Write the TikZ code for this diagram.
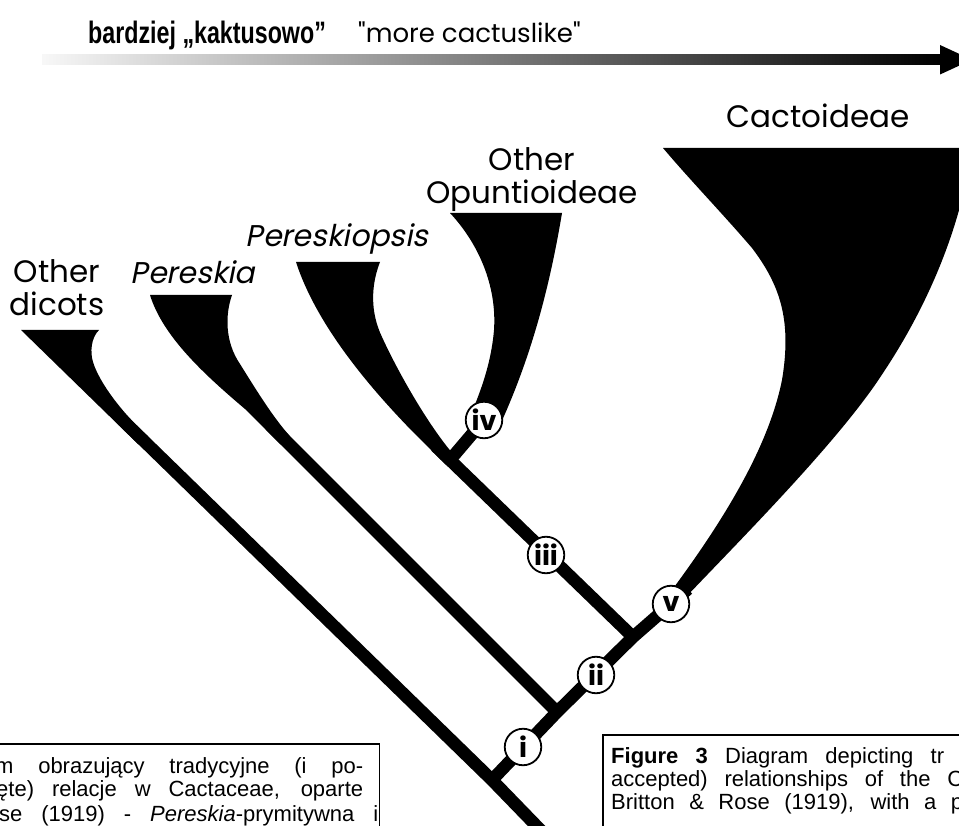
\documentclass[tikz,border=0pt]{standalone}
\usepackage{fontspec}
\setmainfont{Liberation Sans}
\newfontfamily\geo{Poppins}
\newfontfamily\geoit[FakeSlant=0.2]{Poppins}
\newfontfamily\narrowb[FakeStretch=0.75]{Liberation Sans Bold}
\begin{document}
\begin{tikzpicture}[x=1pt,y=-1pt,
  branch/.style={line width=12.5pt, line join=round},
  clade/.style={fill=black},
  num/.style={circle, draw=black, fill=white, line width=1.8pt, minimum size=36.5pt, inner sep=0pt,
    font=\geo\bfseries\fontsize{27}{27}\selectfont},
  taxon/.style={font=\geo\fontsize{31}{33}\selectfont, align=center, inner sep=0pt},
  taxonit/.style={font=\geoit\fontsize{30}{33}\selectfont, inner sep=0pt},
  captxt/.style={font=\fontsize{22}{23}\selectfont, inner sep=0pt, anchor=base west},
  capbox/.style={draw=black, line width=1.3pt}]
\useasboundingbox (0,0) rectangle (959,826);
\fill[white] (0,0) rectangle (959,826);
\begin{scope}
\clip (0,0) rectangle (959,826);

% header
\node[anchor=base west, inner sep=0pt, font=\narrowb\fontsize{31}{32}\selectfont] (hdrpl) at (88,44) {bardziej „kaktusowo”};
\node[anchor=base west, inner sep=0pt, font=\geo\fontsize{26}{28}\selectfont] (hdren) at (358,43) {"more cactuslike"};
\shade[left color=black!3, right color=black] (42,55) rectangle (942,64.5);
\fill (940,45) -- (972,59.75) -- (940,74.5) -- cycle;

% clade shapes
\fill[clade] (21,330) -- (99,330) .. controls (91,338) and (90,352) .. (93,362)
  .. controls (99,382) and (122,413) .. (147.3,435.5) -- (138.5,444.5) -- cycle;
\fill[clade] (150,295) -- (232,295) .. controls (225,315) and (225,342) .. (240,364)
  .. controls (255,388) and (272,416) .. (289.4,435.6) -- (280.6,444.4) -- (245,409)
  .. controls (205,375) and (163,337) .. (150,295) -- cycle;
\fill[clade] (296,262) -- (380,262) .. controls (371,285) and (370,312) .. (382,337)
  .. controls (398,372) and (428,425) .. (454.3,455.5) -- (445.7,464.5) -- (413,432)
  .. controls (378,396) and (318,330) .. (296,262) -- cycle;
\fill[clade] (450,213) -- (562,213) .. controls (550,285) and (532,355) .. (500,425)
  -- (472,412) .. controls (480,392) and (491,365) .. (494,330)
  .. controls (497,285) and (478,243) .. (450,213) -- cycle;
\fill[clade] (663,148) -- (975,148) -- (968,172) .. controls (955,240) and (925,310) .. (883,373)
  .. controls (840,440) and (740,540) .. (686,597) -- (672,590)
  .. controls (720,525) and (768,450) .. (782,380)
  .. controls (792,320) and (780,285) .. (752,248)
  .. controls (722,213) and (690,180) .. (663,148) -- cycle;

% branch points
\coordinate (root) at (556,846);
\coordinate (A) at (492,780);
\coordinate (dend) at (122.4,420);
\coordinate (B) at (557,712);
\coordinate (pend) at (270,425);
\coordinate (C) at (633,637);
\coordinate (D) at (450,460);
\coordinate (psend) at (435.6,446.1);
\coordinate (vend) at (688,589);
\coordinate (ivc) at (484,420);

% branches
\draw[branch] (root) -- (A) -- (dend);
\draw[branch] (A) -- (B) -- (C) -- (vend);
\draw[branch] (B) -- (pend);
\draw[branch] (C) -- (D) -- (psend);
\draw[branch] (D) -- (ivc);

% node labels
\node[num] (n1) at (523,747) {i};
\node[num] (n2) at (596,675) {ii};
\node[num] (n3) at (546,555) {iii};
\node[num] (n4) at (ivc) {iv};
\node[num] (n5) at (671,604) {v};

% taxon labels
\node[taxon, anchor=north] (tdic) at (57,259) {Other\\dicots};
\node[taxonit, anchor=base] (tper) at (193,284) {Pereskia};
\node[taxonit, anchor=base] (tpsis) at (337,247) {Pereskiopsis};
\node[taxon, anchor=north] (topu) at (532,147) {Other\\Opuntioideae};
\node[taxon, anchor=base] (tcac) at (818,128) {Cactoideae};

% caption boxes
\draw[capbox] (-5,744) rectangle (379.5,850);
\draw[capbox] (603,735) rectangle (975,850);
\node[captxt] (l1) at (-5,773) {\makebox[368pt][s]{m obrazujący tradycyjne (i po-}};
\node[captxt] (l2) at (-4,796) {\makebox[367pt][s]{ęte) relacje w Cactaceae, oparte}};
\node[captxt] (l3) at (-1,821) {\makebox[379pt][s]{se (1919) - \textit{Pereskia}-prymitywna i}};
\node[captxt] (r1) at (611,763) {\makebox[333pt][s]{\textbf{Figure 3} Diagram depicting tr}};
\node[captxt] (r2) at (611,786) {\makebox[352pt][s]{accepted) relationships of the C}};
\node[captxt] (r3) at (611,809) {\makebox[352pt][s]{Britton \& Rose (1919), with a p}};
\end{scope}
\end{tikzpicture}
\end{document}
